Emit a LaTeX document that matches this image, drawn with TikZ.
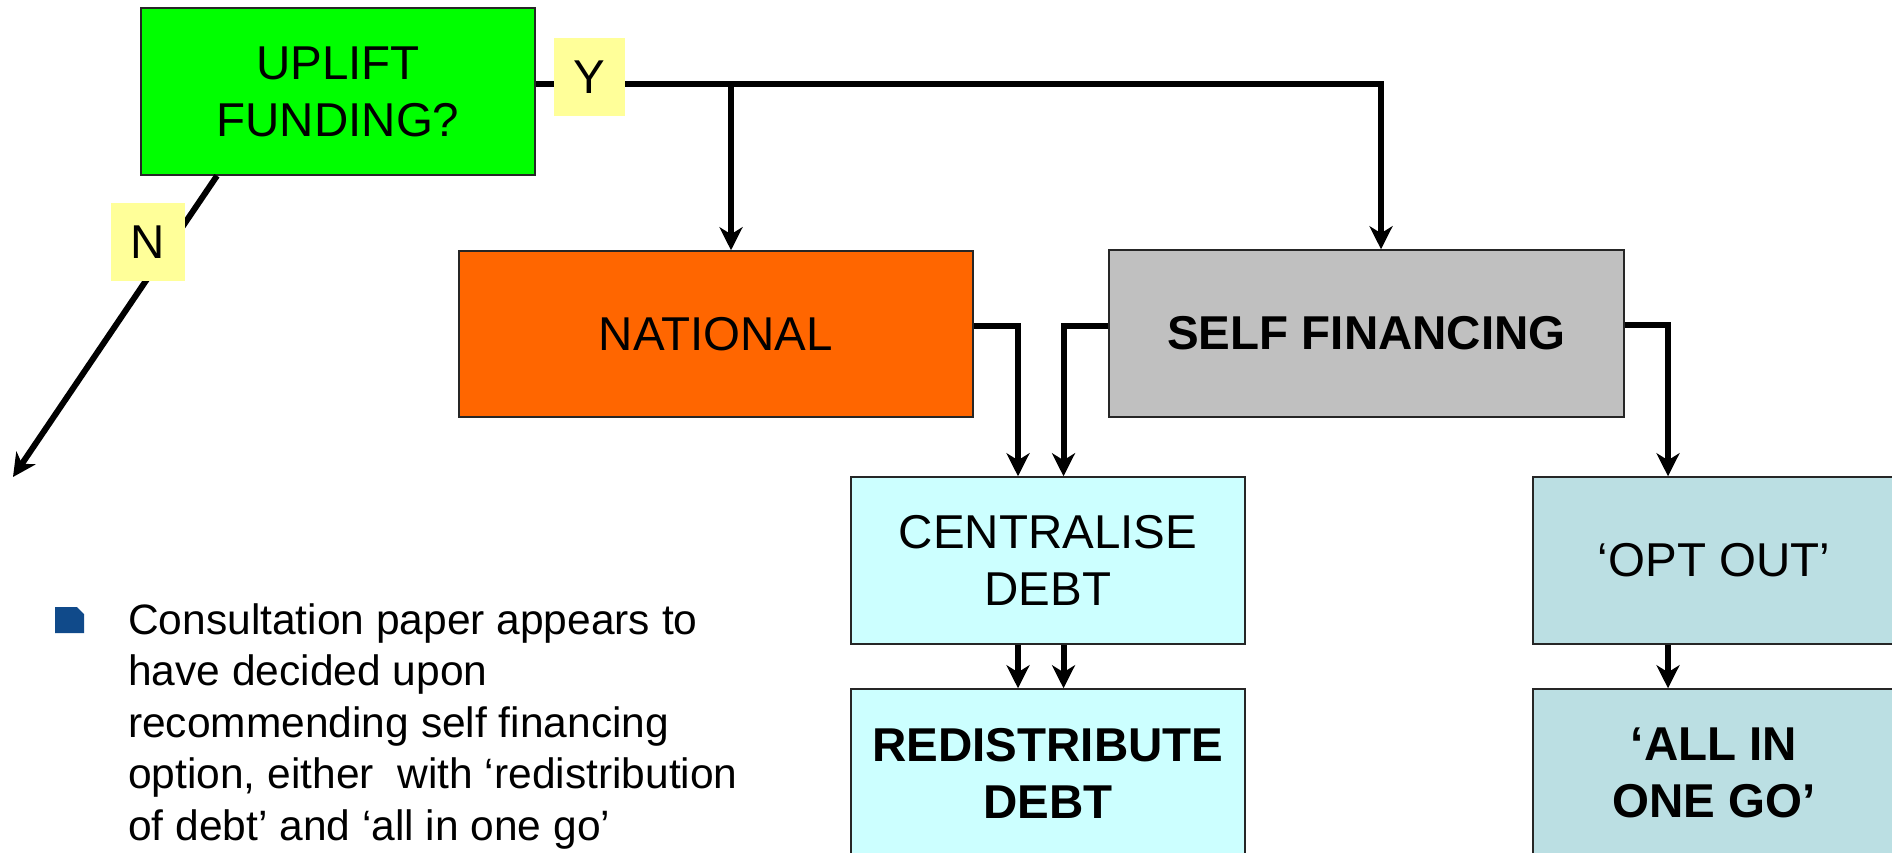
\documentclass[tikz,border=0pt]{standalone}
\usepackage{fontspec}
\setmainfont{Liberation Sans}
\usetikzlibrary{arrows.meta}
\definecolor{upgreen}{RGB}{0,255,0}
\definecolor{natorange}{RGB}{255,102,0}
\definecolor{selfgray}{RGB}{192,192,192}
\definecolor{cyanbox}{RGB}{204,255,255}
\definecolor{tealbox}{RGB}{187,223,227}
\definecolor{labyellow}{RGB}{255,255,153}
\definecolor{bulletblue}{RGB}{16,74,138}
\newcommand\boxfnt{\fontsize{47.5}{57}\selectfont}
\newcommand\txtfnt{\fontsize{42.5}{51.5}\selectfont}
\tikzset{
  fbox/.style={draw=black!85, line width=1.5pt, inner sep=0pt, align=center, font=\boxfnt},
  lab/.style={fill=labyellow, inner sep=0pt, font=\boxfnt},
  conn/.style={line width=6pt, -{Stealth[length=23pt,width=23pt,inset=7pt]}},
}
\begin{document}
\begin{tikzpicture}[x=1pt,y=-1pt]
\useasboundingbox (0,0) rectangle (1892,853);
% boxes
\node[fbox, fill=upgreen, minimum width=394pt, minimum height=167pt] (uplift) at (338,91.5) {UPLIFT\\FUNDING?};
\node[fbox, fill=natorange, minimum width=514pt, minimum height=166pt] (national) at (716,334) {NATIONAL};
\node[fbox, fill=selfgray, minimum width=515pt, minimum height=167pt, font=\boxfnt\bfseries] (self) at (1366.5,333.5) {SELF FINANCING};
\node[fbox, fill=cyanbox, minimum width=394pt, minimum height=167pt] (centralise) at (1048,560.5) {CENTRALISE\\DEBT};
\node[fbox, fill=cyanbox, minimum width=394pt, minimum height=168pt, font=\boxfnt\bfseries] (redistribute) at (1048,773) {REDISTRIBUTE\\DEBT};
\node[fbox, fill=tealbox, minimum width=362pt, minimum height=167pt] (optout) at (1714,560.5) {‘OPT OUT’};
\node[fbox, fill=tealbox, minimum width=362pt, minimum height=168pt, font=\boxfnt\bfseries] (allin) at (1714,773) {‘ALL IN\\ONE GO’};
% connectors
\draw[conn] ([yshift=7.5pt]uplift.east) -| ([xshift=14.5pt]self.north);
\draw[conn] ([yshift=7.5pt]uplift.east) -| ([xshift=15pt]national.north);
\draw[conn] ([yshift=8pt]national.east) -| ([xshift=-30pt]centralise.north);
\draw[conn] ([yshift=8pt]self.west) -| ([xshift=15.5pt]centralise.north);
\draw[conn] ([yshift=8.5pt]self.east) -| ([xshift=-46pt]optout.north);
\draw[conn] ([xshift=-30pt]centralise.south) -- ([xshift=-30pt]redistribute.north);
\draw[conn] ([xshift=15.5pt]centralise.south) -- ([xshift=15.5pt]redistribute.north);
\draw[conn] ([xshift=-46pt]optout.south) -- ([xshift=-46pt]allin.north);
\coordinate (nend) at (13,477);
\draw[conn] ([xshift=-121pt]uplift.south) -- (nend);
% labels
\node[lab, minimum width=71pt, minimum height=78pt] (ylab) at (589.5,77) {Y};
\node[lab, minimum width=74pt, minimum height=78pt] (nlab) at (148,242) {N};
% bullet text
\fill[bulletblue] (55,607) -- (77,607) -- (84,614) -- (84,633) -- (55,633) -- cycle;
\node[anchor=base west, align=left, inner sep=0pt, font=\txtfnt] (note) at (128,840)
  {Consultation paper appears to\\have decided upon\\recommending self financing\\option, either\ \ with ‘redistribution\\of debt’ and ‘all in one go’};
\end{tikzpicture}
\end{document}
